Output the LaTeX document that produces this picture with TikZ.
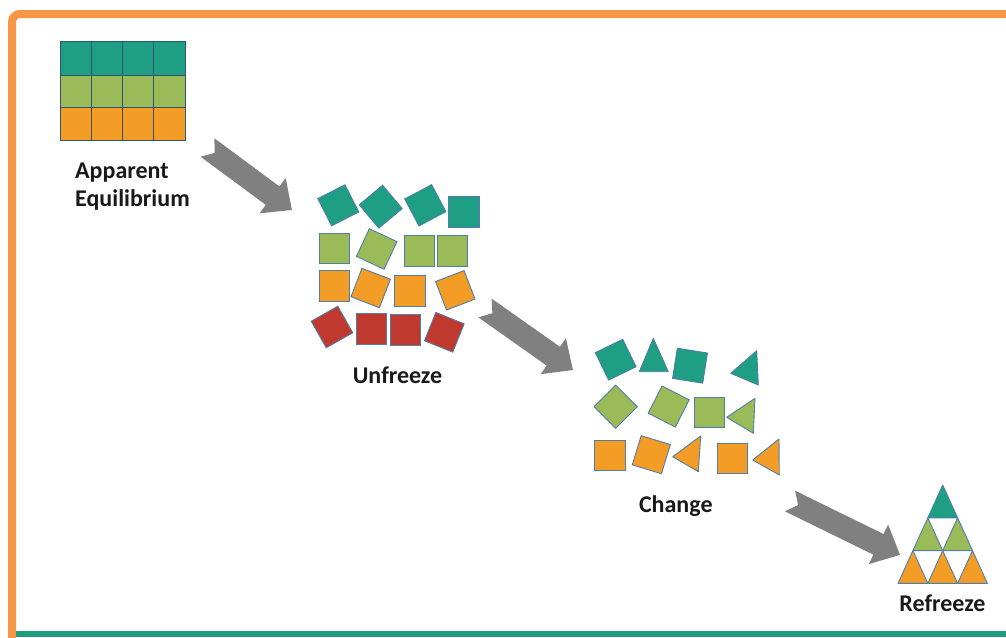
\documentclass[tikz,border=0pt]{standalone}
\usepackage{fontspec}
\setmainfont{Carlito}
\usetikzlibrary{calc}
\definecolor{tealf}{HTML}{1E9E82}
\definecolor{greenf}{HTML}{9BBB59}
\definecolor{orangef}{HTML}{F39C26}
\definecolor{redf}{HTML}{C0392E}
\definecolor{edge}{HTML}{4F7EA8}
\definecolor{arrowgray}{HTML}{808080}
\definecolor{frameorange}{HTML}{F79646}
\definecolor{frameteal}{HTML}{1E9E7E}
\tikzset{
  sq/.style={draw=edge, line width=0.9pt, minimum size=30.5pt, inner sep=0pt},
  shp/.style={draw=edge, line width=0.9pt, line join=round},
  cell/.style={draw=edge!65!black, line width=0.9pt},
  lbl/.style={font=\fontsize{24}{28}\selectfont\bfseries, text=black!90, inner sep=0pt}
}
\def\blockarrow(#1)(#2:#3){\fill[arrowgray, shift={(#1)}, rotate=#2] (9,0) -- (0,11.5) -- ({#3-24},11.5) -- ({#3-24},22) -- (#3,0) -- ({#3-24},-22) -- ({#3-24},-11.5) -- (0,-11.5) -- cycle;}

\begin{document}
\begin{tikzpicture}[x=1pt, y=-1pt]
		\useasboundingbox (0,0) rectangle (1006,637);
		%%%%% FRAME %%%%%
		\draw[frameorange, line width=8pt, rounded corners=8pt] (12,645) -- (12,14) -- (1015,14);
		\fill[frameteal] (16,631) rectangle (1006,637);
		
		%%%%% APPARENT EQUILIBRIUM %%%%%
		\foreach \c in {0,...,3} {
			\draw[cell, fill=tealf] ({60+31.25*\c},41.7) rectangle ++(31.25,33.3);
			\draw[cell, fill=greenf] ({60+31.25*\c},75) rectangle ++(31.25,32.3);
			\draw[cell, fill=orangef] ({60+31.25*\c},107.3) rectangle ++(31.25,32.7);
		}
		\node[lbl, anchor=base west, align=left] (apparent) at (75,206.5) {Apparent\\Equilibrium};
		
		\coordinate (arrA) at (207.5,147.5);
		\blockarrow(arrA)(-36.5:105)
		
		%%%%% UNFREEZE %%%%%
		\node[sq, fill=tealf, rotate=27] (u1) at (338.3,205.3) {};
		\node[sq, fill=tealf, rotate=40] (u2) at (380.7,206.7) {};
		\node[sq, fill=tealf, rotate=28] (u3) at (425.3,205.3) {};
		\node[sq, fill=tealf] (u4) at (464,212) {};
		
		\node[sq, fill=greenf] (u5) at (334.5,248.5) {};
		\node[sq, fill=greenf, rotate=-25] (u6) at (376.7,249) {};
		\node[sq, fill=greenf] (u7) at (419.5,251) {};
		\node[sq, fill=greenf] (u8) at (452.5,251) {};
		
		\node[sq, fill=orangef] (u9) at (334.5,285.8) {};
		\node[sq, fill=orangef, rotate=-21] (u10) at (370.7,288) {};
		\node[sq, fill=orangef] (u11) at (409.7,290.8) {};
		\node[sq, fill=orangef, rotate=21] (u12) at (455.3,290.3) {};
		
		\node[sq, fill=redf, rotate=29.5] (u13) at (332,327) {};
		\node[sq, fill=redf] (u14) at (371.2,328.8) {};
		\node[sq, fill=redf] (u15) at (405.2,329.7) {};
		\node[sq, fill=redf, rotate=-22] (u16) at (444.3,332.3) {};
		
		\node[lbl, anchor=base] (unfreeze) at (397.5,383.3) {Unfreeze};
		
		\coordinate (arrB) at (485,308);
		\blockarrow(arrB)(-35.2:107.6)
		
		%%%%% CHANGE %%%%%
		\node[sq, fill=tealf, rotate=26] (c1) at (615.7,359.7) {};
		\draw[shp, fill=tealf] (653.3,338.3) -- (668.3,371.7) -- (639.3,371.7) -- cycle;
		\node[sq, fill=tealf, rotate=-9] (c2) at (690,365.7) {};
		\draw[shp, fill=tealf] (756.7,350.7) -- (758.3,385) -- (730.7,373.3) -- cycle;
		
		\node[sq, fill=greenf, rotate=45] (c3) at (615.7,406.7) {};
		\node[sq, fill=greenf, rotate=-27] (c4) at (668.7,406.5) {};
		\node[sq, fill=greenf] (c5) at (709.5,412.2) {};
		\draw[shp, fill=greenf] (755,398.3) -- (753.3,433.3) -- (726.7,417.3) -- cycle;
		
		\node[sq, fill=orangef] (c6) at (610,455.3) {};
		\node[sq, fill=orangef, rotate=-17] (c7) at (651.3,454.7) {};
		\draw[shp, fill=orangef] (700.7,436) -- (698.3,471.7) -- (672.7,456.7) -- cycle;
		\node[sq, fill=orangef] (c8) at (732.5,458.3) {};
		\draw[shp, fill=orangef] (779,439) -- (779.3,475) -- (752.7,460) -- cycle;
		
		\node[lbl, anchor=base] (change) at (675.8,512.3) {Change};
		
		\coordinate (arrC) at (790,501);
		\blockarrow(arrC)(-26.1:122.5)
		
		%%%%% REFREEZE %%%%%
		\foreach \r/\col in {0/tealf,1/greenf,2/orangef}
			\foreach \k in {0,...,\r}
				\draw[shp, fill=\col] ({942.7-14.9*\r+29.8*\k},{485+32.8*\r}) -- ++(14.9,32.8) -- ++(-29.8,0) -- cycle;
		
		\node[lbl, anchor=base] (refreeze) at (942.5,611.7) {Refreeze};
	\end{tikzpicture}
\end{document}
